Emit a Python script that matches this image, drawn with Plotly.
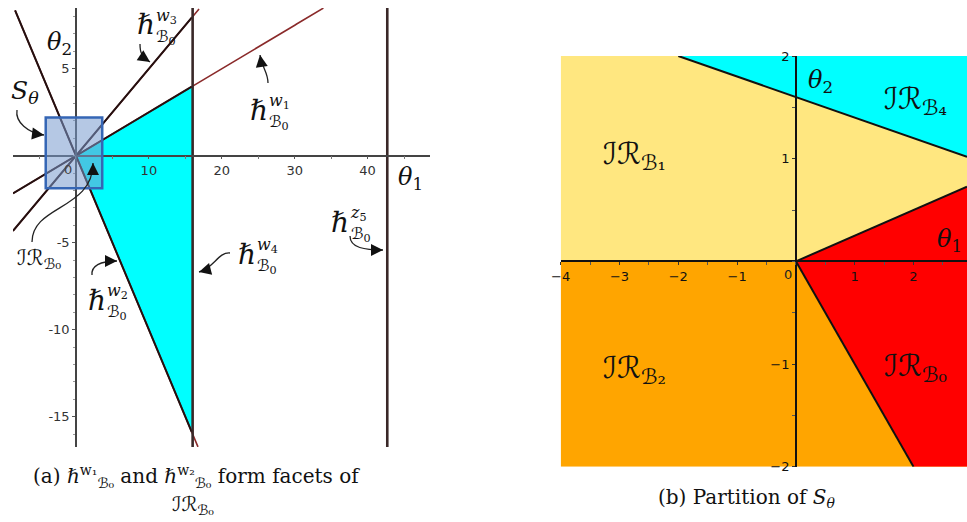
import numpy as np
import plotly.graph_objects as go

W, H = 967, 522

# ---------------- data: panel (a) ----------------
facet_names = ["w1", "w2", "w3"]
facet_slopes = [0.25, -1.0, 0.5]          # h^{w_i}_{B0}:  theta2 = slope * theta1
vertical_names = ["w4", "z5"]
vertical_theta1 = [16.0, 42.7]            # vertical hyperplanes theta1 = const
ir0_theta1 = [0.0, 16.0, 16.0]            # IR_B0 polygon
ir0_theta2 = [0.0, 4.0, -16.0]
s_theta_x = [-4.15, 3.6]                  # S_theta box as sketched in (a)
s_theta_y = [-1.87, 2.2]
a_xticks = [10, 20, 30, 40]
a_yticks = [-15, -10, -5, 5]
a_yticktext = ["-15", "-10", "-5", "5"]
a_xrange = [-8.64, 48.56]
a_yrange = [-16.74, 8.49]

# ---------------- data: panel (b) ----------------
b_xrange = [-4.0, 2.91]
b_yrange = [-2.0, 2.0]
b4_intercept, b4_slope = 1.6, -0.2        # boundary IR_B1 / IR_B4
b0_upper_slope = 0.25                     # boundary IR_B1 / IR_B0
b0_lower_slope = -1.0                     # boundary IR_B2 / IR_B0
b_xticks = [-4, -3, -2, -1, 1, 2]
b_yticks = [-2, -1, 1, 2]
region_names = ["ℐℛ<sub>ℬ₀</sub>", "ℐℛ<sub>ℬ₁</sub>", "ℐℛ<sub>ℬ₂</sub>", "ℐℛ<sub>ℬ₄</sub>"]
region_label_x = [2.03, -2.74, -2.74, 2.03]
region_label_y = [-1.03, 1.03, -1.05, 1.57]

# ---------------- layout geometry ----------------
xd_a = [13 / W, 430 / W]
yd_a = [1 - 447 / H, 1 - 8 / H]
xd_b = [560.7 / W, 1.0]
yd_b = [1 - 466.7 / H, 1 - 56 / H]


def frac(v, rng, dom):
    return dom[0] + (v - rng[0]) / (rng[1] - rng[0]) * (dom[1] - dom[0])


def P(px, py):
    return px / W, 1 - py / H


SERIF = "DejaVu Serif, DejaVu Sans, Noto Sans"
fig = go.Figure()

# ---------- panel (a) ----------
fig.add_trace(go.Scatter(x=ir0_theta1, y=ir0_theta2, fill="toself", fillcolor="#00FFFF",
                         mode="lines", line=dict(width=0), xaxis="x", yaxis="y",
                         hoverinfo="skip"))

for name, m in zip(facet_names, facet_slopes):
    xs = np.linspace(a_xrange[0], a_xrange[1], 400)
    ys = m * xs
    ok = (ys >= a_yrange[0]) & (ys <= a_yrange[1])
    xs, ys = xs[ok], ys[ok]
    fig.add_trace(go.Scatter(x=xs, y=ys, mode="lines", line=dict(color="#8a2a2a", width=1.6),
                             xaxis="x", yaxis="y", hoverinfo="skip"))
    inner = xs <= vertical_theta1[0]
    fig.add_trace(go.Scatter(x=xs[inner], y=ys[inner], mode="lines",
                             line=dict(color="#241010", width=2),
                             xaxis="x", yaxis="y", hoverinfo="skip"))

for name, xv in zip(vertical_names, vertical_theta1):
    fig.add_trace(go.Scatter(x=[xv, xv], y=a_yrange, mode="lines",
                             line=dict(color="#3a2828", width=2.6),
                             xaxis="x", yaxis="y", hoverinfo="skip"))

# ---------- panel (b) ----------
xmax = b_xrange[1]
fig.add_trace(go.Scatter(x=[b_xrange[0], xmax, xmax, b_xrange[0]], y=[0, 0, 2, 2],
                         fill="toself", fillcolor="#FFE780", mode="lines", line=dict(width=0),
                         xaxis="x2", yaxis="y2", hoverinfo="skip"))
fig.add_trace(go.Scatter(x=[b_xrange[0], xmax, xmax, b_xrange[0]], y=[0, 0, -2, -2],
                         fill="toself", fillcolor="#FFA500", mode="lines", line=dict(width=0),
                         xaxis="x2", yaxis="y2", hoverinfo="skip"))
x_b4_top = (b_yrange[1] - b4_intercept) / b4_slope
fig.add_trace(go.Scatter(x=[x_b4_top, xmax, xmax], y=[2, b4_intercept + b4_slope * xmax, 2],
                         fill="toself", fillcolor="#00FFFF", mode="lines", line=dict(width=0),
                         xaxis="x2", yaxis="y2", hoverinfo="skip"))
x_b0_bot = b_yrange[0] / b0_lower_slope
fig.add_trace(go.Scatter(x=[0, xmax, xmax, x_b0_bot], y=[0, b0_upper_slope * xmax, -2, -2],
                         fill="toself", fillcolor="#FF0000", mode="lines", line=dict(width=0),
                         xaxis="x2", yaxis="y2", hoverinfo="skip"))
for xs, ys in [([x_b4_top, xmax], [2, b4_intercept + b4_slope * xmax]),
               ([0, xmax], [0, b0_upper_slope * xmax]),
               ([0, x_b0_bot], [0, -2])]:
    fig.add_trace(go.Scatter(x=xs, y=ys, mode="lines", line=dict(color="#111", width=2),
                             xaxis="x2", yaxis="y2", hoverinfo="skip"))

ann = []
shapes = []

# S_theta box
shapes.append(dict(type="rect", xref="x", yref="y", x0=s_theta_x[0], x1=s_theta_x[1],
                   y0=s_theta_y[0], y1=s_theta_y[1], fillcolor="rgba(120,155,205,0.55)",
                   line=dict(color="#3566B5", width=2.5), layer="above"))

# zero labels
ann.append(dict(x=0, y=0, xref="x", yref="y", text="0", showarrow=False, xshift=-8, yshift=-14,
                font=dict(family="DejaVu Sans", size=13, color="#444")))
ann.append(dict(x=0, y=0, xref="x2", yref="y2", text="0", showarrow=False, xshift=-8, yshift=-13,
                font=dict(family="DejaVu Sans", size=13, color="#222")))


def txt(px, py, text, size, xanchor="center", color="#111", align="center"):
    x, y = P(px, py)
    ann.append(dict(x=x, y=y, xref="paper", yref="paper", text=text, showarrow=False,
                    xanchor=xanchor, yanchor="middle", align=align,
                    font=dict(family=SERIF, size=size, color=color)))


def hlabel(cx, cy, sup_letter, sup_idx):
    txt(cx, cy, "<i>ℏ</i>", 28)
    txt(cx + 8, cy + 2, f"<i>{sup_letter}</i><sub>{sup_idx}</sub><br>ℬ<sub>0</sub>", 16,
        xanchor="left", align="left")


def arrow(p0, c1, c2, p1):
    a0, a1, a2, a3 = P(*p0), P(*c1), P(*c2), P(*p1)
    shapes.append(dict(type="path", xref="paper", yref="paper",
                       path=f"M {a0[0]},{a0[1]} C {a1[0]},{a1[1]} {a2[0]},{a2[1]} {a3[0]},{a3[1]}",
                       line=dict(color="#222", width=1.3)))
    d = np.array(c2, float) - np.array(p1, float)
    d = d / np.linalg.norm(d) * 9
    x, y = P(*p1)
    ann.append(dict(x=x, y=y, xref="paper", yref="paper", text="", showarrow=True,
                    ax=float(d[0]), ay=float(d[1]), arrowhead=2, arrowsize=1.5,
                    arrowwidth=1.6, arrowcolor="#111"))


# panel (a) labels
txt(59, 43, "<i>θ</i><sub>2</sub>", 24)
txt(410, 178, "<i>θ</i><sub>1</sub>", 24)
txt(25, 92, "<i>S</i><sub><i>θ</i></sub>", 25)
txt(39, 259, "ℐℛ<sub>ℬ₀</sub>", 21)
hlabel(146, 25, "w", 3)
hlabel(259, 110, "w", 1)
hlabel(97, 300, "w", 2)
hlabel(247, 254, "w", 4)
hlabel(340, 222, "z", 5)

arrow((140, 44), (140, 52), (141, 56), (150, 62))
arrow((268, 83), (268, 72), (262, 68), (260, 55))
arrow((17, 110), (15, 122), (28, 133), (44, 135))
arrow((32, 242), (32, 205), (93, 210), (93, 163))
arrow((92, 275), (91, 266), (100, 261), (117, 261))
arrow((230, 253), (218, 252), (214, 268), (199, 272))
arrow((350, 236), (350, 248), (365, 250), (383, 250))

# panel (b) labels
for name, lx, ly in zip(region_names, region_label_x, region_label_y):
    ann.append(dict(x=lx, y=ly, xref="x2", yref="y2", text=name, showarrow=False,
                    font=dict(family=SERIF, size=30, color="#111")))
ann.append(dict(x=0.41, y=1.75, xref="x2", yref="y2", text="<i>θ</i><sub>2</sub>", showarrow=False,
                font=dict(family=SERIF, size=24, color="#111")))
ann.append(dict(x=2.62, y=0.2, xref="x2", yref="y2", text="<i>θ</i><sub>1</sub>", showarrow=False,
                font=dict(family=SERIF, size=24, color="#111")))

# captions
txt(196, 476, "(a) <i>ℏ</i><sup>w₁</sup><sub>ℬ₀</sub> and <i>ℏ</i><sup>w₂</sup><sub>ℬ₀</sub> form facets of", 20)
txt(193, 505, "ℐℛ<sub>ℬ₀</sub>", 20)
txt(746, 498, "(b) Partition of <i>S</i><sub><i>θ</i></sub>", 20)

axfont_a = dict(family="DejaVu Sans", size=13, color="#333")
axfont_b = dict(family="DejaVu Sans", size=13, color="#111")

fig.update_layout(
    width=W, height=H, margin=dict(l=0, r=0, t=0, b=0, pad=0, autoexpand=False),
    paper_bgcolor="white", plot_bgcolor="rgba(0,0,0,0)", showlegend=False,
    xaxis=dict(domain=xd_a, range=a_xrange, anchor="free", automargin=False,
               position=frac(0, a_yrange, yd_a), showline=True, linecolor="#444", linewidth=1.5,
               tickmode="array", tickvals=a_xticks, ticks="outside", ticklen=3, tickcolor="#555",
               minor=dict(ticks="outside", dtick=5, tick0=0, ticklen=3, tickcolor="#777"),
               showgrid=False, zeroline=False, tickfont=axfont_a, fixedrange=True),
    yaxis=dict(domain=yd_a, range=a_yrange, anchor="free", automargin=False,
               position=frac(0, a_xrange, xd_a), showline=True, linecolor="#444", linewidth=1.5,
               tickmode="array", tickvals=a_yticks, ticktext=a_yticktext, ticks="outside",
               ticklen=3, tickcolor="#555",
               minor=dict(ticks="outside", dtick=1, tick0=0, ticklen=2, tickcolor="#999"),
               showgrid=False, zeroline=False, tickfont=axfont_a, fixedrange=True),
    xaxis2=dict(domain=xd_b, range=b_xrange, anchor="free", automargin=False,
                position=frac(0, b_yrange, yd_b), showline=True, linecolor="#111", linewidth=1.6,
                tickmode="array", tickvals=b_xticks, ticks="outside", ticklen=3, tickcolor="#333",
                minor=dict(ticks="outside", dtick=0.5, tick0=0, ticklen=3, tickcolor="#555"),
                showgrid=False, zeroline=False, tickfont=axfont_b, fixedrange=True),
    yaxis2=dict(domain=yd_b, range=b_yrange, anchor="free", automargin=False,
                position=frac(0, b_xrange, xd_b), showline=True, linecolor="#111", linewidth=1.6,
                tickmode="array", tickvals=b_yticks, ticks="outside", ticklen=3, tickcolor="#333",
                minor=dict(ticks="outside", dtick=0.5, tick0=0, ticklen=3, tickcolor="#555"),
                showgrid=False, zeroline=False, tickfont=axfont_b, fixedrange=True),
    annotations=ann, shapes=shapes,
)

fig.write_html("out.html")
